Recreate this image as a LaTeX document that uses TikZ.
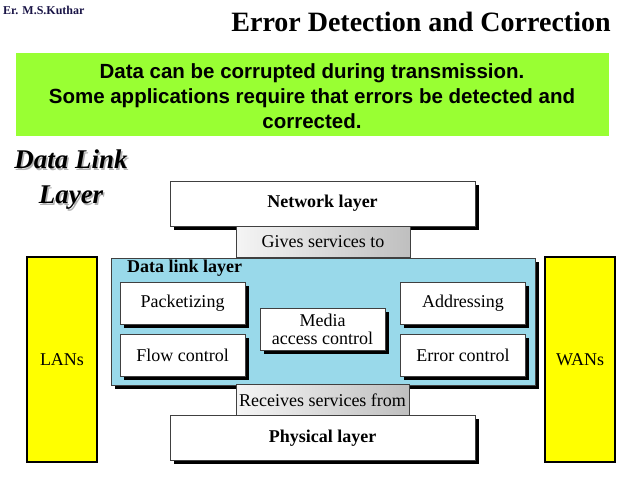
\documentclass[tikz,border=0pt]{standalone}
\usepackage{fontspec}
\setmainfont{Liberation Serif}
\newfontfamily\arialfont{Liberation Sans}
\usetikzlibrary{shadows}
\definecolor{notegreen}{RGB}{153,255,51}
\definecolor{dllblue}{RGB}{153,217,234}
\definecolor{lanyellow}{RGB}{255,255,0}
\definecolor{authorblue}{RGB}{25,20,70}

\begin{document}
\begin{tikzpicture}[x=1pt, y=-1pt,
    box/.style={rectangle, draw=black!75, line width=0.6pt, fill=white, inner sep=0pt, font=\fontsize{18}{20}\selectfont},
    shadowbox/.style={box, drop shadow={shadow xshift=3.5pt, shadow yshift=-3.5pt, fill=black, opacity=1}},
    layerbox/.style={shadowbox, minimum width=305pt, minimum height=45pt, font=\fontsize{18}{20}\selectfont\bfseries},
    taskbox/.style={shadowbox, minimum width=125pt, minimum height=42pt, align=center},
    servicebox/.style={box, minimum height=31pt, left color=gray!8, right color=gray!50},
    netbox/.style={box, fill=lanyellow, draw=black, line width=1.2pt, minimum width=70pt, minimum height=205pt},
    heading/.style={font=\fontsize{27}{35}\selectfont\bfseries\itshape, align=center},
    title/.style={font=\fontsize{28}{32}\selectfont\bfseries}
]
\useasboundingbox (0,0) rectangle (638,479);

% Header
\node[font=\fontsize{12}{14}\selectfont\bfseries, text=authorblue, anchor=west, inner sep=0pt] (author) at (3,10) {Er. M.S.Kuthar};
\node[title] (title) at (421,22) {Error Detection and Correction};

% Note
\node[rectangle, fill=notegreen, minimum width=593pt, minimum height=83pt] (note) at (312.5,94.5) {};
\node[font=\arialfont\fontsize{20.5}{25}\selectfont\bfseries, align=center] (notetext) at (312,96)
    {Data can be corrupted during transmission.\\Some applications require that errors be detected and\\corrected.};

% Side heading
\node[heading, text=gray!60] (headshadow) at (72.5,181.5) {Data Link\\Layer};
\node[heading] (head) at (71,180) {Data Link\\Layer};

% LANs and WANs
\node[netbox] (lans) at (62,359.5) {LANs};
\node[netbox] (wans) at (580,359.5) {WANs};

% Upper layer
\node[layerbox] (net) at (322.5,203.5) {Network layer};

% Data link layer
\node[shadowbox, fill=dllblue, minimum width=424pt, minimum height=127pt] (dll) at (323,321.5) {};
\node[font=\fontsize{18}{20}\selectfont\bfseries, anchor=north west, inner sep=0pt] (dlltitle) at (127,260) {Data link layer};

\node[taskbox] (packet) at (182.5,303) {Packetizing};
\node[taskbox] (flow) at (182.5,355.5) {Flow control};
\node[taskbox] (media) at (322.5,329.5) {Media\\[-2pt]access control};
\node[taskbox] (addr) at (463,303) {Addressing};
\node[taskbox] (error) at (463,355.5) {Error control};

% Lower layer
\node[layerbox] (phys) at (322.5,438) {Physical layer};

% Services
\node[servicebox, minimum width=174pt] (gives) at (323,242) {Gives services to};
\node[servicebox, minimum width=173pt] (receives) at (322.5,400) {Receives services from};

\end{tikzpicture}
\end{document}
